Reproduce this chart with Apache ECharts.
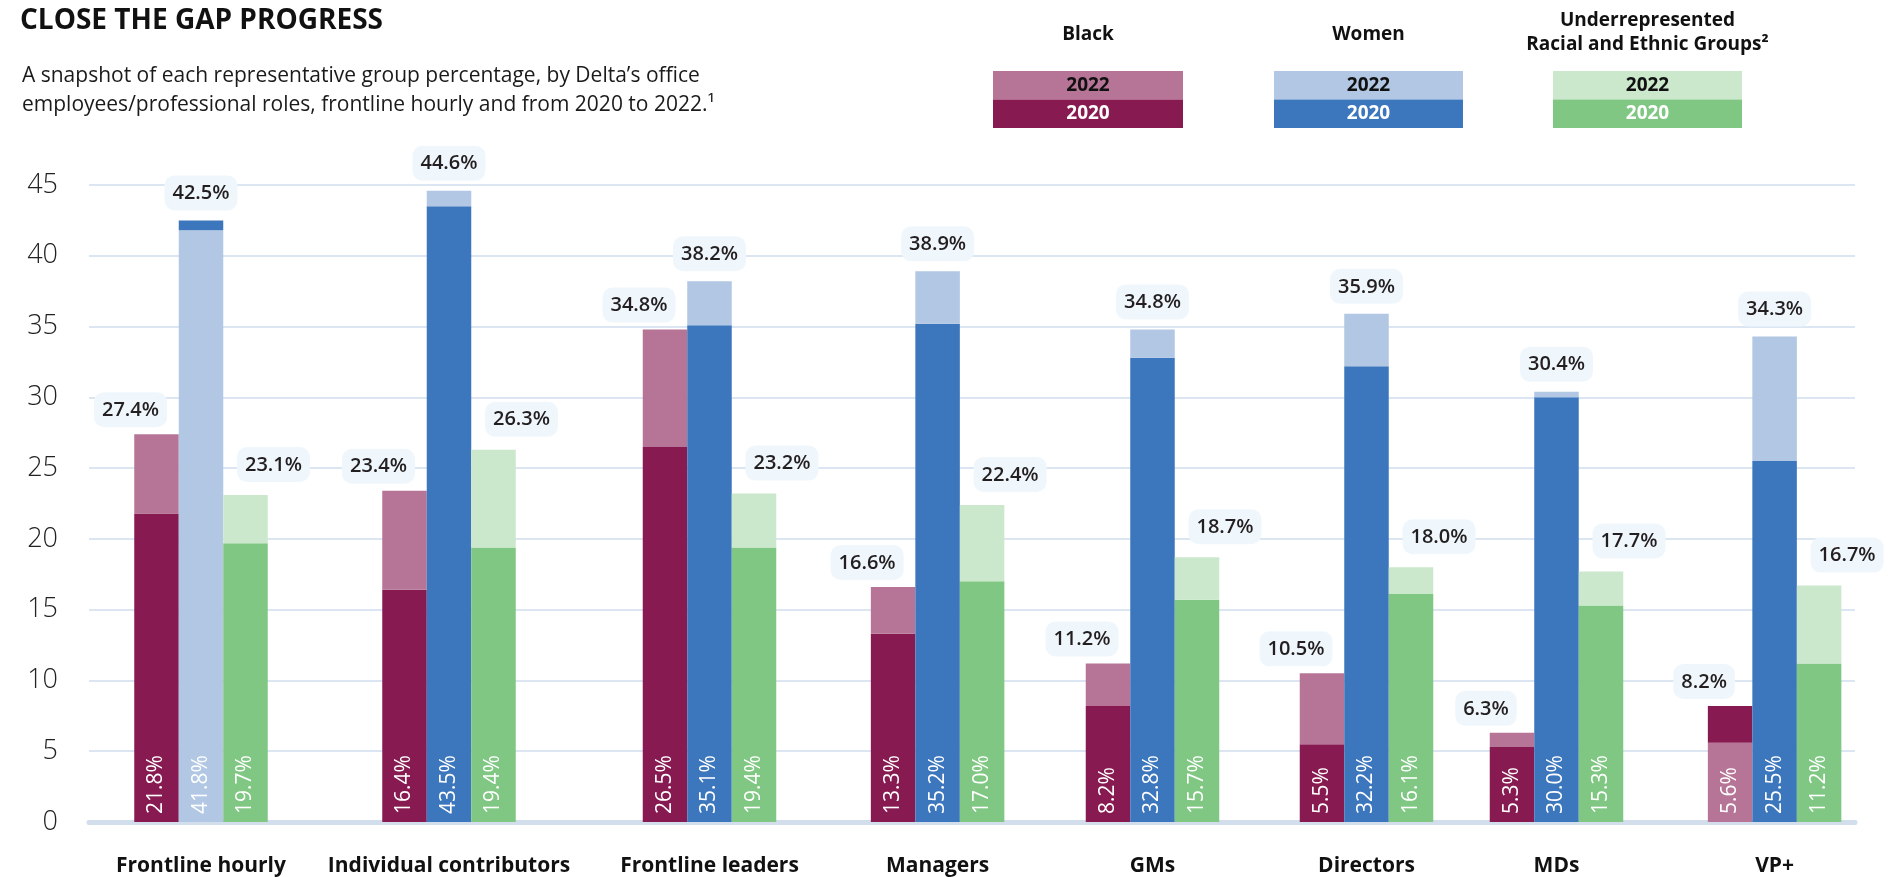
<!DOCTYPE html>
<html>
<head>
<meta charset="utf-8">
<script src="https://cdn.jsdelivr.net/npm/echarts@6/dist/echarts.min.js"></script>
<style>
html,body{margin:0;padding:0;background:#fff;}
#chart{width:1891px;height:877px;}
</style>
</head>
<body>
<div id="chart"></div>
<script>
// ---- DATA ----
const categories = ['Frontline hourly', 'Individual contributors', 'Frontline leaders', 'Managers', 'GMs', 'Directors', 'MDs', 'VP+'];
const black2022 = [27.4, 23.4, 34.8, 16.6, 11.2, 10.5, 6.3, 5.6];
const black2020 = [21.8, 16.4, 26.5, 13.3, 8.2, 5.5, 5.3, 8.2];
const women2022 = [41.8, 44.6, 38.2, 38.9, 34.8, 35.9, 30.4, 34.3];
const women2020 = [42.5, 43.5, 35.1, 35.2, 32.8, 32.2, 30.0, 25.5];
const urg2022 = [23.1, 26.3, 23.2, 22.4, 18.7, 18.0, 17.7, 16.7];
const urg2020 = [19.7, 19.4, 19.4, 17.0, 15.7, 16.1, 15.3, 11.2];
const groupNames = ['Black', 'Women', 'Underrepresented Racial and Ethnic Groups'];

// ---- LAYOUT / STYLE ----
const FONT = '"Open Sans", Lato, sans-serif';
const groupCenters = [201, 449, 709.5, 937.6, 1152.5, 1366.5, 1556.5, 1774.6];
const GRID_TOP = 185, GRID_BOTTOM = 55;
const BAR_W = 44.5;
const groups = [
  {y2022: black2022, y2020: black2020, c2022: '#B67596', c2020: '#871A50', dx: -26, dist: 7},
  {y2022: women2022, y2020: women2020, c2022: '#B1C7E3', c2020: '#3C76BC', dx: 0, dist: 10},
  {y2022: urg2022, y2020: urg2020, c2022: '#CBE8CD', c2020: '#7FC782', dx: 28, dist: 13}
];

const grids = [], xAxes = [], yAxes = [], series = [];
// background grid with y axis and gridlines
grids.push({left: 89, right: 36, top: GRID_TOP, bottom: GRID_BOTTOM});
xAxes.push({gridIndex: 0, type: 'category', data: [''], axisTick: {show: false}, axisLabel: {show: false},
  axisLine: {show: true, lineStyle: {color: '#D3DEEC', width: 5}}});
yAxes.push({gridIndex: 0, type: 'value', min: 0, max: 45, interval: 5,
  axisLine: {show: false}, axisTick: {show: false},
  axisLabel: {fontFamily: FONT, fontSize: 27, color: '#222', margin: 31, fontWeight: 300},
  splitLine: {lineStyle: {color: '#DCE6F3', width: 2}}});

categories.forEach(function (cat, i) {
  const gi = i + 1;
  grids.push({left: groupCenters[i] - 80, width: 160, top: GRID_TOP, bottom: GRID_BOTTOM});
  xAxes.push({gridIndex: gi, type: 'category', data: [cat], axisTick: {show: false}, axisLine: {show: false},
    axisLabel: {interval: 0, fontFamily: FONT, fontWeight: 'bold', fontSize: 21, color: '#111', margin: 34}});
  yAxes.push({gridIndex: gi, type: 'value', min: 0, max: 45, show: false});
  groups.forEach(function (g, k) {
    const a = g.y2022[i], b = g.y2020[i];
    const lo = Math.min(a, b), hi = Math.max(a, b);
    const loColor = (a <= b) ? g.c2022 : g.c2020;
    const hiColor = (a <= b) ? g.c2020 : g.c2022;
    const stackName = 's' + i + '_' + k;
    series.push({
      type: 'bar', name: groupNames[k], xAxisIndex: gi, yAxisIndex: gi, stack: stackName,
      barWidth: BAR_W, barGap: '0%', z: 3,
      data: [{value: lo, itemStyle: {color: loColor}}],
      label: {show: true, position: 'insideBottom', rotate: 90, align: 'left', verticalAlign: 'middle',
        distance: 8, formatter: lo.toFixed(1) + '%', color: '#fff', fontFamily: FONT, fontSize: 21, fontWeight: 500}
    });
    series.push({
      type: 'bar', name: groupNames[k], xAxisIndex: gi, yAxisIndex: gi, stack: stackName,
      barWidth: BAR_W, barGap: '0%', z: 3,
      data: [{value: +(hi - lo).toFixed(2), itemStyle: {color: hiColor}}],
      label: {show: true, position: 'top', distance: g.dist, offset: [g.dx, 0],
        formatter: hi.toFixed(1) + '%', color: '#231F20', fontFamily: FONT, fontSize: 20, fontWeight: 600,
        backgroundColor: '#F0F7FC', borderRadius: 10, padding: [8, 8, 7, 8]}
    });
  });
});

// ---- TITLES & LEGEND (graphic) ----
function txt(text, x, y, size, weight, color, align) {
  return {type: 'text', x: x, y: y, silent: true, style: {text: text, fill: color || '#1a1a1a',
    font: (weight || 'normal') + ' ' + size + 'px ' + FONT, align: align || 'left', verticalAlign: 'middle'}};
}
const graphics = [
  txt('CLOSE THE GAP PROGRESS', 20, 21, 28, 'bold', '#111'),
  txt('A snapshot of each representative group percentage, by Delta\u2019s office', 22, 76, 21, 'normal', '#1a1a1a'),
  txt('employees/professional roles, frontline hourly and from 2020 to 2022.\u00B9', 22, 105, 21, 'normal', '#1a1a1a')
];
const legendBoxes = [
  {x: 993, w: 190, head: ['Black'], c2022: '#B67596', c2020: '#871A50'},
  {x: 1274, w: 189, head: ['Women'], c2022: '#B1C7E3', c2020: '#3C76BC'},
  {x: 1553, w: 189, head: ['Underrepresented', 'Racial and Ethnic Groups\u00B2'], c2022: '#CBE8CD', c2020: '#7FC782'}
];
legendBoxes.forEach(function (b) {
  const cx = b.x + b.w / 2;
  if (b.head.length === 1) {
    graphics.push(txt(b.head[0], cx, 35, 19, 'bold', '#111', 'center'));
  } else {
    graphics.push(txt(b.head[0], cx, 21, 19, 'bold', '#111', 'center'));
    graphics.push(txt(b.head[1], cx, 45, 19, 'bold', '#111', 'center'));
  }
  graphics.push({type: 'rect', silent: true, shape: {x: b.x, y: 71, width: b.w, height: 28.5}, style: {fill: b.c2022}});
  graphics.push({type: 'rect', silent: true, shape: {x: b.x, y: 99.5, width: b.w, height: 28.5}, style: {fill: b.c2020}});
  graphics.push(txt('2022', cx, 86, 19, 'bold', '#111', 'center'));
  graphics.push(txt('2020', cx, 114, 19, 'bold', '#fff', 'center'));
});

const chart = echarts.init(document.getElementById('chart'), null, {renderer: 'canvas'});
chart.setOption({
  animation: false,
  backgroundColor: '#fff',
  grid: grids,
  xAxis: xAxes,
  yAxis: yAxes,
  series: series,
  graphic: graphics
});
</script>
</body>
</html>
